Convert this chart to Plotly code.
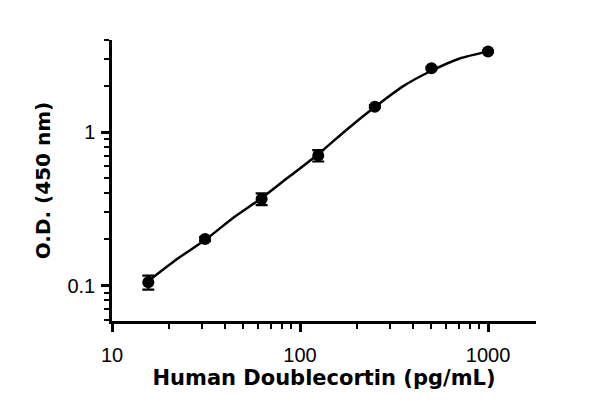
import plotly.graph_objects as go

# -----------------------------
# Data
# -----------------------------

conc = [15.6, 31.25, 62.5, 125, 250, 500, 1000]
od = [0.105, 0.201, 0.367, 0.705, 1.47, 2.62, 3.37]
od_err = [0.011, 0.006, 0.032, 0.06, 0.03, 0.05, 0.05]

# fitted curve
curve_x = [15.6, 22, 31.25, 44, 62.5, 88, 125, 177, 250, 354, 500, 707, 1000]
curve_y = [0.107, 0.148, 0.198, 0.276, 0.372, 0.516, 0.72, 1.04, 1.46, 2.0, 2.52, 3.03, 3.37]

x_ticks = [10, 100, 1000]
y_ticks = [0.1, 1]

TITLE_FONT = "DejaVu Sans"
TICK_FONT = "Liberation Sans"

fig = go.Figure()

fig.add_trace(go.Scatter(
    x=curve_x,
    y=curve_y,
    mode="lines",
    line=dict(color="black", width=2.5, shape="spline", smoothing=0.6),
    hoverinfo="skip",
    showlegend=False,
))

fig.add_trace(go.Scatter(
    x=conc,
    y=od,
    mode="markers",
    marker=dict(color="black", size=12),
    error_y=dict(type="data", array=od_err, color="black", thickness=2.2, width=6),
    showlegend=False,
))

axis_common = dict(
    type="log",
    automargin=False,
    showgrid=False,
    zeroline=False,
    showline=True,
    linecolor="black",
    linewidth=2.5,
    ticks="outside",
    ticklen=8,
    tickwidth=2.5,
    tickcolor="black",
    tickfont=dict(family=TICK_FONT, size=20, color="black"),
    minor=dict(ticks="outside", ticklen=5, tickwidth=2.2, tickcolor="black",
               dtick="D1", showgrid=False),
)

fig.update_xaxes(
    **axis_common,
    range=[1, 3.255],
    tickvals=x_ticks,
    ticktext=[str(v) for v in x_ticks],
    ticklabelstandoff=6,
    title=dict(text="<b>Human Doublecortin (pg/mL)</b>",
               font=dict(family=TITLE_FONT, size=21, color="black"), standoff=0),
)

fig.update_yaxes(
    **axis_common,
    range=[-1.231, 0.602],
    tickvals=y_ticks,
    ticktext=["0.1", "1"],
    ticklabelstandoff=2,
    title=dict(text="<b>O.D. (450 nm)</b>",
               font=dict(family=TITLE_FONT, size=20, color="black"), standoff=12),
)

# the page body adds 8px, so the margins are pulled in by that much
fig.update_layout(
    width=600,
    height=409,
    margin=dict(l=104, r=72, t=32, b=96),
    plot_bgcolor="white",
    paper_bgcolor="white",
)

fig.write_html("out.html")
